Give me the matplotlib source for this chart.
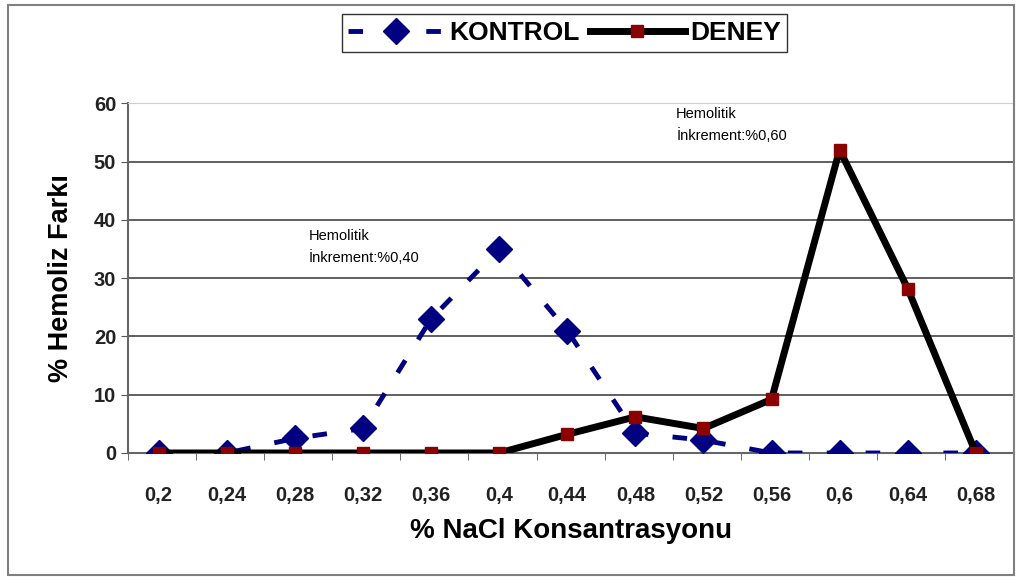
import numpy as np
import matplotlib.pyplot as plt
from matplotlib.patches import Rectangle

plt.rcParams['font.family'] = ['Liberation Sans', 'DejaVu Sans']

# data
###############################################################################
nacl = ["0,2", "0,24", "0,28", "0,32", "0,36", "0,4", "0,44",
        "0,48", "0,52", "0,56", "0,6", "0,64", "0,68"]
kontrol = [0, 0, 2.5, 4.2, 23, 35, 21, 3.4, 2.2, 0, 0, 0, 0]
deney = [0, 0, 0, 0, 0, 0, 3.2, 6.2, 4.2, 9.2, 52, 28.2, 0]

fig = plt.figure(figsize=(10.21, 5.8), dpi=100)
# outer frame of the chart
fig.patches.append(Rectangle((0.008, 0.008), 0.985, 0.984, transform=fig.transFigure,
                             fill=False, edgecolor="#808080", lw=1.5))

ax = fig.add_axes([0.1254, 0.219, 0.867, 0.603])
x = np.arange(len(nacl))

ax.plot(x, kontrol, color="#000080", lw=3.5, dashes=(3, 5), marker="D",
        markersize=13, label="KONTROL", zorder=3)
ax.plot(x, deney, color="black", lw=5, marker="s", markersize=8.5,
        markerfacecolor="#8b0000", markeredgecolor="#8b0000", label="DENEY", zorder=4)

ax.set_xlim(-0.45, len(nacl) - 0.45)
ax.set_ylim(0, 60)
ax.set_yticks(range(0, 61, 10))
ax.set_xticks(x)
ax.set_xticklabels(nacl)
ax.set_xticks(np.arange(len(nacl) + 1) - 0.5 + 0.05, minor=True)
ax.tick_params(axis="x", which="major", length=0, pad=24, labelsize=14.5)
ax.tick_params(axis="x", which="minor", length=5, direction="out", color="#555555")
ax.tick_params(axis="y", length=5, direction="out", labelsize=14.5, color="#555555")
for lab in ax.get_xticklabels() + ax.get_yticklabels():
    lab.set_fontweight("bold")
    lab.set_color("#222222")

ax.grid(axis="y", color="#444444", lw=1.2)
ax.set_axisbelow(True)
for s in ["top", "right"]:
    ax.spines[s].set_color("#d0d0d0")
for s in ["left", "bottom"]:
    ax.spines[s].set_color("#666666")
    ax.spines[s].set_linewidth(1.5)

ax.set_xlabel("% NaCl Konsantrasyonu", fontsize=20, fontweight="bold", labelpad=9)
ax.set_ylabel("% Hemoliz Farkı", fontsize=19.5, fontweight="bold", labelpad=14)

ax.text(2.2, 38.5, "Hemolitik\nİnkrement:%0,40", fontsize=10.5, linespacing=1.6, va="top")
ax.text(7.6, 59.3, "Hemolitik\nİnkrement:%0,60", fontsize=10.5, linespacing=1.6, va="top")

leg = fig.legend(loc="upper center", bbox_to_anchor=(0.553, 0.998), ncol=2,
                 fontsize=19, frameon=True, fancybox=False, edgecolor="black",
                 handlelength=3.6, columnspacing=0.4, handletextpad=0.2,
                 borderpad=0.25)
for t in leg.get_texts():
    t.set_fontweight("bold")

fig.savefig("out.png", dpi=100)
